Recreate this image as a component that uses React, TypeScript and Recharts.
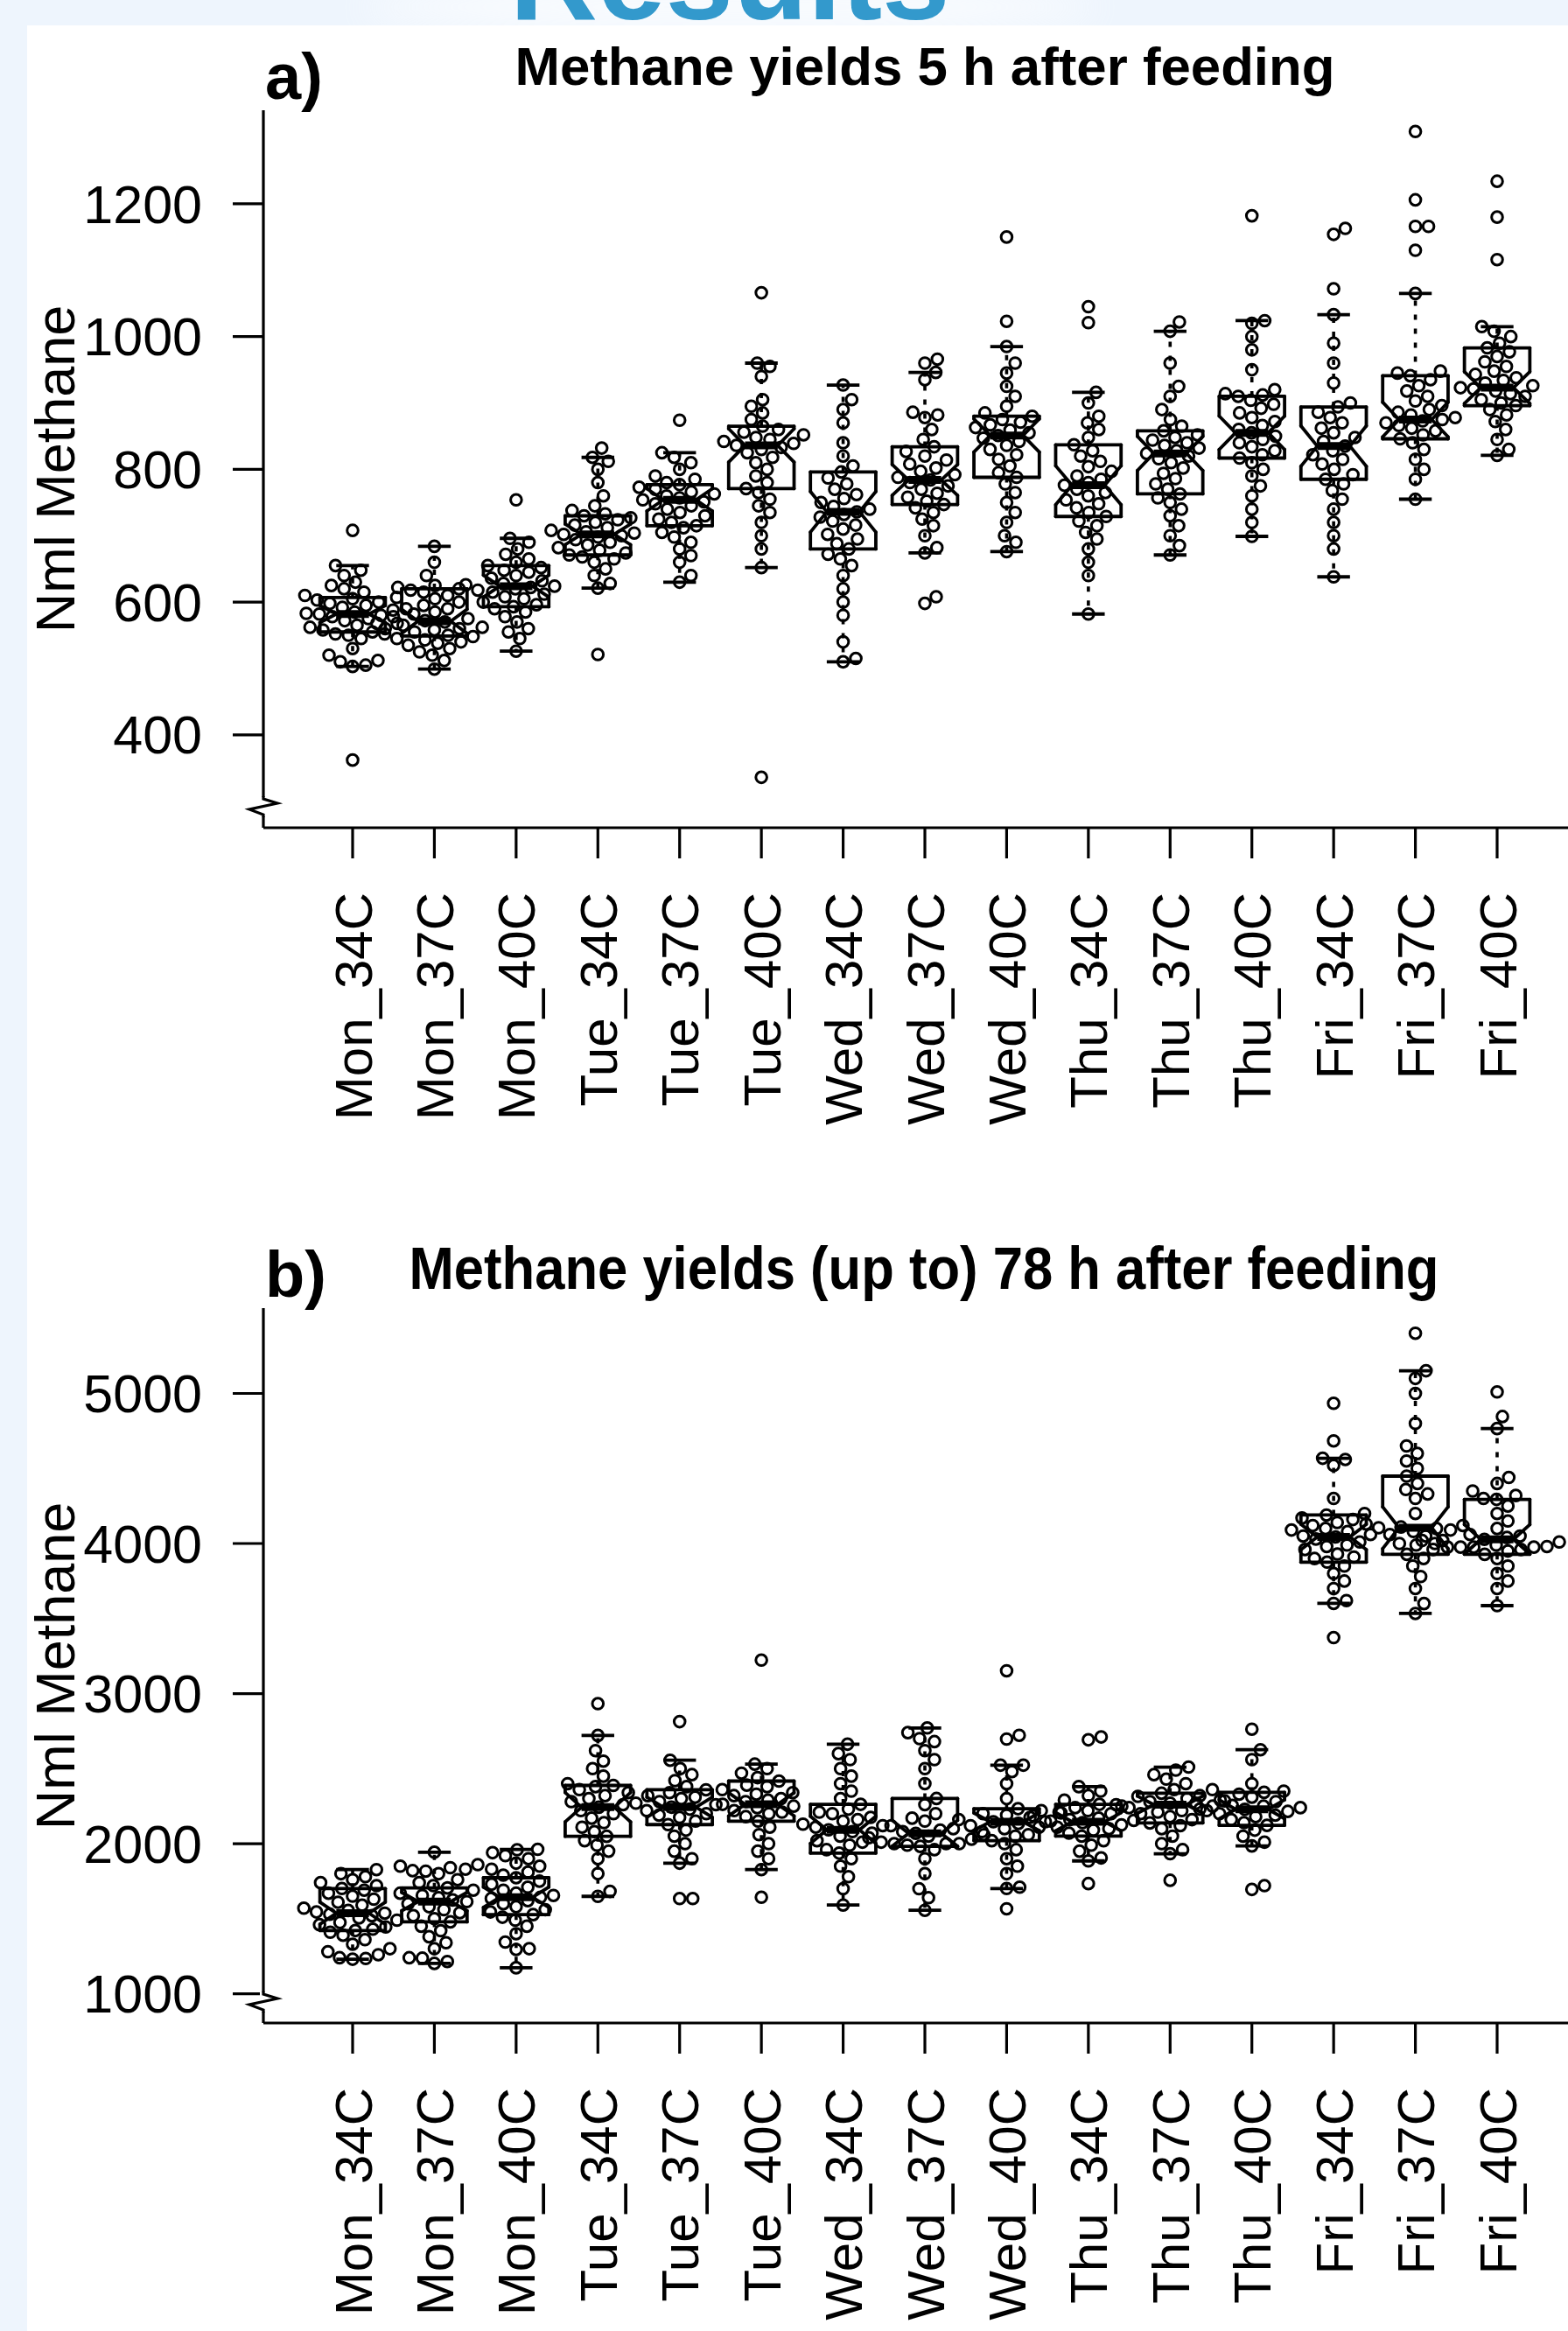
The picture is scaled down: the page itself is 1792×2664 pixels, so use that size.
import React from 'react';
import { ComposedChart, Scatter, XAxis, YAxis, ReferenceLine } from 'recharts';

const categories = [
  'Mon_34C', 'Mon_37C', 'Mon_40C', 'Tue_34C', 'Tue_37C', 'Tue_40C', 'Wed_34C', 'Wed_37C',
  'Wed_40C', 'Thu_34C', 'Thu_37C', 'Thu_40C', 'Fri_34C', 'Fri_37C', 'Fri_40C',
];
const xTicks = categories.map((_, i) => i + 1);

// panel a) - 5 h after feeding
const yTicksA = [400, 600, 800, 1000, 1200];
const lowA = [503, 499, 526, 621, 630, 652, 510, 674, 676, 582, 671, 699, 638, 755, 821];
const q1A = [555, 549, 593, 671, 715, 771, 680, 747, 788, 729, 763, 817, 785, 846, 896];
const medA = [582, 571, 624, 702, 754, 836, 736, 784, 851, 776, 824, 855, 835, 875, 923];
const q3A = [607, 620, 655, 730, 777, 865, 796, 834, 880, 837, 858, 910, 894, 941, 983];
const highA = [655, 684, 696, 818, 825, 960, 927, 946, 985, 916, 1008, 1024, 1033, 1065, 1015];
const pointsA = [
  [362, 503, 505, 510, 512, 520, 530, 545, 550, 552, 555, 558, 560, 562, 565, 568, 572, 575, 578, 580, 582, 583, 585, 588, 590, 592, 595, 598, 600, 603, 605, 607, 610, 615, 620, 625, 630, 640, 648, 655, 708],
  [499, 512, 520, 525, 530, 535, 538, 540, 543, 545, 548, 550, 552, 555, 558, 560, 562, 565, 568, 570, 572, 575, 578, 582, 585, 590, 595, 600, 605, 610, 615, 618, 620, 622, 625, 640, 660, 684],
  [526, 545, 555, 560, 570, 578, 585, 590, 593, 596, 600, 605, 608, 612, 615, 618, 620, 622, 624, 626, 628, 632, 636, 640, 645, 648, 652, 655, 660, 665, 672, 680, 690, 696, 754],
  [521, 621, 628, 640, 650, 660, 665, 668, 671, 674, 678, 682, 686, 690, 694, 698, 700, 702, 704, 706, 708, 712, 716, 720, 724, 727, 730, 733, 738, 745, 760, 780, 800, 812, 818, 832],
  [630, 640, 660, 670, 680, 690, 698, 705, 712, 715, 720, 725, 730, 735, 740, 745, 748, 751, 754, 757, 760, 763, 766, 770, 773, 777, 780, 785, 790, 800, 810, 818, 825, 874],
  [336, 652, 680, 700, 720, 735, 745, 755, 765, 771, 780, 790, 800, 810, 818, 825, 830, 833, 836, 839, 842, 845, 848, 852, 856, 860, 865, 875, 885, 895, 905, 940, 955, 960, 1066],
  [510, 515, 540, 580, 600, 620, 640, 655, 665, 672, 680, 688, 695, 702, 710, 716, 722, 728, 732, 736, 740, 744, 750, 756, 762, 770, 778, 787, 796, 805, 820, 840, 870, 890, 905, 927],
  [598, 608, 674, 682, 700, 715, 725, 735, 742, 747, 752, 758, 764, 770, 775, 780, 784, 788, 792, 797, 802, 808, 814, 820, 827, 834, 845, 860, 878, 882, 886, 935, 946, 960, 966],
  [676, 690, 700, 720, 735, 750, 765, 778, 788, 795, 805, 815, 822, 830, 836, 842, 847, 851, 855, 859, 863, 867, 871, 875, 880, 885, 895, 910, 925, 945, 960, 985, 1023, 1150],
  [582, 640, 660, 680, 695, 705, 715, 722, 729, 735, 742, 748, 754, 760, 765, 770, 776, 780, 785, 790, 797, 804, 812, 820, 828, 837, 848, 860, 870, 880, 900, 916, 1021, 1045],
  [671, 685, 700, 715, 730, 740, 750, 757, 763, 770, 778, 786, 794, 802, 810, 816, 820, 824, 828, 832, 836, 840, 844, 848, 852, 858, 865, 875, 890, 910, 925, 960, 1008, 1022],
  [699, 720, 740, 760, 775, 790, 800, 810, 817, 822, 828, 834, 840, 845, 850, 855, 860, 866, 872, 878, 885, 892, 898, 904, 910, 912, 914, 920, 950, 980, 1000, 1020, 1024, 1182],
  [638, 680, 700, 720, 740, 755, 768, 778, 785, 792, 800, 808, 815, 822, 828, 835, 842, 848, 855, 862, 870, 878, 886, 894, 900, 930, 960, 990, 1033, 1072, 1154, 1163],
  [755, 785, 800, 815, 830, 840, 846, 852, 858, 862, 866, 870, 873, 875, 878, 882, 886, 890, 896, 903, 910, 918, 926, 935, 941, 945, 948, 1065, 1130, 1166, 1166, 1206, 1309],
  [821, 830, 845, 860, 872, 882, 890, 896, 900, 905, 910, 914, 918, 921, 923, 926, 930, 934, 938, 943, 948, 955, 962, 970, 977, 983, 990, 1000, 1008, 1015, 1116, 1180, 1234],
];

// panel b) - up to 78 h after feeding
const yTicksB = [1000, 2000, 3000, 4000, 5000];
const lowB = [1230, 1202, 1173, 1649, 1870, 1827, 1591, 1556, 1701, 1885, 1933, 1985, 3601, 3534, 3586];
const q1B = [1421, 1479, 1527, 2049, 2127, 2150, 1937, 1982, 2020, 2050, 2138, 2122, 3876, 3928, 3928];
const medB = [1537, 1614, 1643, 2243, 2243, 2262, 2092, 2069, 2146, 2146, 2260, 2229, 4044, 4105, 4028];
const q3B = [1701, 1705, 1773, 2388, 2359, 2417, 2262, 2301, 2233, 2262, 2336, 2342, 4190, 4449, 4294];
const highB = [1827, 1943, 1962, 2721, 2556, 2530, 2663, 2771, 2523, 2380, 2510, 2626, 4568, 5151, 4766];
const pointsB = [
  [1230, 1235, 1240, 1260, 1280, 1300, 1330, 1360, 1390, 1410, 1421, 1430, 1445, 1460, 1475, 1490, 1505, 1520, 1530, 1537, 1545, 1555, 1570, 1590, 1610, 1630, 1650, 1670, 1690, 1701, 1720, 1740, 1760, 1780, 1800, 1827],
  [1202, 1215, 1237, 1240, 1300, 1340, 1380, 1420, 1450, 1479, 1500, 1520, 1540, 1560, 1580, 1600, 1614, 1625, 1640, 1655, 1670, 1690, 1705, 1720, 1740, 1760, 1800, 1817, 1820, 1830, 1840, 1850, 1860, 1943],
  [1173, 1295, 1300, 1344, 1400, 1450, 1490, 1510, 1527, 1545, 1560, 1580, 1600, 1620, 1635, 1643, 1655, 1670, 1690, 1710, 1730, 1750, 1773, 1790, 1810, 1830, 1850, 1870, 1900, 1920, 1940, 1959, 1962],
  [1649, 1682, 1800, 1900, 1950, 1990, 2020, 2049, 2080, 2110, 2140, 2170, 2200, 2220, 2243, 2260, 2280, 2300, 2320, 2340, 2360, 2380, 2388, 2400, 2450, 2500, 2550, 2620, 2721, 2933],
  [1634, 1634, 1870, 1900, 1950, 2000, 2050, 2090, 2127, 2150, 2175, 2190, 2200, 2220, 2230, 2243, 2260, 2270, 2280, 2300, 2310, 2320, 2340, 2359, 2380, 2420, 2460, 2500, 2556, 2813],
  [1643, 1827, 1900, 1950, 2000, 2060, 2110, 2150, 2180, 2200, 2210, 2220, 2240, 2250, 2262, 2280, 2290, 2300, 2320, 2330, 2340, 2360, 2380, 2390, 2417, 2440, 2470, 2500, 2530, 3223],
  [1591, 1700, 1780, 1850, 1900, 1937, 1960, 1990, 2010, 2020, 2050, 2070, 2080, 2092, 2110, 2120, 2130, 2150, 2160, 2175, 2200, 2210, 2230, 2262, 2300, 2350, 2400, 2450, 2500, 2560, 2600, 2663],
  [1556, 1640, 1700, 1800, 1900, 1960, 1982, 1990, 2000, 2000, 2000, 2010, 2030, 2040, 2050, 2060, 2069, 2080, 2090, 2100, 2120, 2150, 2170, 2200, 2260, 2301, 2400, 2500, 2560, 2620, 2680, 2700, 2740, 2771],
  [1566, 1701, 1710, 1800, 1850, 1900, 1960, 2000, 2020, 2050, 2060, 2080, 2100, 2110, 2120, 2135, 2146, 2150, 2160, 2175, 2190, 2200, 2205, 2220, 2233, 2300, 2400, 2480, 2523, 2523, 2697, 2722, 3152],
  [1734, 1885, 1905, 1950, 1990, 2020, 2050, 2070, 2090, 2100, 2110, 2125, 2140, 2146, 2155, 2160, 2170, 2185, 2200, 2210, 2220, 2240, 2250, 2262, 2290, 2320, 2350, 2380, 2692, 2711],
  [1756, 1933, 1960, 2000, 2050, 2100, 2120, 2138, 2160, 2180, 2200, 2210, 2220, 2230, 2240, 2250, 2260, 2270, 2280, 2285, 2300, 2315, 2320, 2336, 2360, 2400, 2430, 2460, 2490, 2510],
  [1695, 1720, 1985, 2010, 2050, 2090, 2122, 2140, 2160, 2180, 2190, 2200, 2215, 2220, 2229, 2240, 2250, 2255, 2270, 2280, 2290, 2310, 2330, 2342, 2350, 2360, 2400, 2560, 2626, 2763],
  [3373, 3601, 3620, 3700, 3750, 3800, 3850, 3876, 3900, 3910, 3930, 3960, 3980, 3990, 4010, 4030, 4044, 4050, 4060, 4080, 4090, 4100, 4120, 4140, 4160, 4170, 4190, 4200, 4300, 4520, 4560, 4568, 4684, 4934],
  [3534, 3600, 3700, 3780, 3850, 3900, 3928, 3960, 3990, 4000, 4020, 4050, 4060, 4080, 4090, 4100, 4105, 4110, 4120, 4130, 4200, 4300, 4330, 4360, 4400, 4449, 4500, 4550, 4600, 4650, 4800, 5000, 5100, 5151, 5401],
  [3586, 3700, 3750, 3800, 3850, 3900, 3928, 3950, 3960, 3976, 3976, 3976, 3976, 3980, 3990, 4000, 4010, 4020, 4028, 4040, 4050, 4060, 4100, 4150, 4200, 4250, 4294, 4300, 4320, 4350, 4400, 4440, 4766, 4846, 5010],
];

const FONT = "'Liberation Sans', Arial, Helvetica, sans-serif";
const NARROW = "'Liberation Sans Narrow', 'Arial Narrow', 'Liberation Sans', sans-serif";

const CHART_W = 1860;
const PLOT_LEFT = 301;
const PLOT_RIGHT = 1813;
const X_DOMAIN: [number, number] = [-0.0917, 16.0917];
const DOT_D = 15;

// simple beeswarm: place each point as close to the centre as it can go without overlap
function swarmOffsets(vals: number[], pxPerY: number, d: number) {
  const order = vals.map((_, i) => i).sort((a, b) => vals[a] - vals[b]);
  const placed: { x: number; y: number }[] = [];
  const out = new Array(vals.length).fill(0);
  for (const i of order) {
    const y = vals[i] * pxPerY;
    const near = placed.filter((p) => Math.abs(p.y - y) < d);
    const cands = [0];
    near.forEach((p) => {
      const dx = Math.sqrt(d * d - (p.y - y) * (p.y - y));
      cands.push(p.x + dx, p.x - dx);
    });
    cands.sort((a, b) => Math.abs(a) - Math.abs(b) || b - a);
    let best = 0;
    for (const c of cands) {
      if (near.every((p) => (p.x - c) ** 2 + (p.y - y) ** 2 >= d * d - 0.01)) {
        best = c;
        break;
      }
    }
    placed.push({ x: best, y });
    out[i] = best;
  }
  return out;
}

type Seg = { a: [number, number]; b: [number, number]; kind: 'box' | 'med' | 'whisk' | 'cap' };

function boxSegments(i: number, lo: number, q1: number, med: number, q3: number, hi: number, n: number) {
  const x = i + 1;
  const w = 0.4;
  const wn = w / 2;
  const h = (1.58 * (q3 - q1)) / Math.sqrt(n);
  const nLo = med - h;
  const nHi = med + h;
  const poly: [number, number][] = [
    [x - w, q1], [x - w, nLo], [x - wn, med], [x - w, nHi], [x - w, q3],
    [x + w, q3], [x + w, nHi], [x + wn, med], [x + w, nLo], [x + w, q1], [x - w, q1],
  ];
  const segs: Seg[] = [];
  for (let k = 0; k < poly.length - 1; k++) segs.push({ a: poly[k], b: poly[k + 1], kind: 'box' });
  segs.push({ a: [x, q3], b: [x, hi], kind: 'whisk' });
  segs.push({ a: [x, q1], b: [x, lo], kind: 'whisk' });
  segs.push({ a: [x - wn, hi], b: [x + wn, hi], kind: 'cap' });
  segs.push({ a: [x - wn, lo], b: [x + wn, lo], kind: 'cap' });
  segs.push({ a: [x - wn, med], b: [x + wn, med], kind: 'med' });
  return segs;
}

const segStyle = {
  box: { strokeWidth: 3.8, strokeLinecap: 'round' },
  med: { strokeWidth: 9, strokeLinecap: 'butt' },
  whisk: { strokeWidth: 3.6, strokeLinecap: 'butt', strokeDasharray: '6 10' },
  cap: { strokeWidth: 3.8, strokeLinecap: 'butt' },
} as const;

const Dot = (p: any) => (
  <circle cx={p.cx} cy={p.cy} r={6.3} fill="none" stroke="#000" strokeWidth={3} />
);

const XTick = (p: any) => {
  const label = categories[Math.round(p.payload.value) - 1];
  return (
    <text
      x={p.x}
      y={p.y}
      transform={`rotate(-90 ${p.x} ${p.y})`}
      textAnchor="end"
      dy="0.36em"
      fontSize={60}
      fontFamily={FONT}
      fill="#000"
    >
      {label}
    </text>
  );
};

interface PanelProps {
  points: number[][];
  lows: number[];
  q1s: number[];
  meds: number[];
  q3s: number[];
  highs: number[];
  yDomain: [number, number];
  yTicks: number[];
  height: number;
  marginTop: number;
  xAxisHeight: number;
}

function Panel({ points, lows, q1s, meds, q3s, highs, yDomain, yTicks, height, marginTop, xAxisHeight }: PanelProps) {
  const plotH = height - marginTop - xAxisHeight;
  const pxPerY = plotH / (yDomain[1] - yDomain[0]);
  const pxPerX = (PLOT_RIGHT - PLOT_LEFT) / (X_DOMAIN[1] - X_DOMAIN[0]);

  const dots = points.flatMap((vals, i) => {
    const offs = swarmOffsets(vals, pxPerY, DOT_D);
    return vals.map((v, k) => ({ x: i + 1 + offs[k] / pxPerX, y: v }));
  });
  const segs = points.flatMap((vals, i) =>
    boxSegments(i, lows[i], q1s[i], meds[i], q3s[i], highs[i], vals.length)
  );
  const axisStroke = { stroke: '#000', strokeWidth: 3.2 };

  return (
    <ComposedChart
      width={CHART_W}
      height={height}
      margin={{ top: marginTop, right: CHART_W - PLOT_RIGHT, bottom: 0, left: 0 }}
    >
      <XAxis
        xAxisId={0}
        type="number"
        dataKey="x"
        domain={X_DOMAIN}
        allowDataOverflow
        ticks={xTicks}
        interval={0}
        height={xAxisHeight}
        tickSize={35}
        tickMargin={39}
        tick={(p: any) => <XTick {...p} />}
        axisLine={axisStroke}
        tickLine={axisStroke}
      />
      <XAxis
        xAxisId="top"
        orientation="top"
        type="number"
        domain={X_DOMAIN}
        allowDataOverflow
        height={0}
        tick={false}
        tickLine={false}
        axisLine={axisStroke}
      />
      <YAxis
        type="number"
        dataKey="y"
        domain={yDomain}
        allowDataOverflow
        ticks={yTicks}
        interval={0}
        width={PLOT_LEFT}
        tickSize={35}
        tickMargin={35}
        tick={{ fontSize: 61, fill: '#000', fontFamily: FONT }}
        axisLine={axisStroke}
        tickLine={axisStroke}
      />
      <Scatter data={dots} dataKey="y" isAnimationActive={false} shape={Dot} />
      {segs.map((s, k) => (
        <ReferenceLine
          key={k}
          segment={[{ x: s.a[0], y: s.a[1] }, { x: s.b[0], y: s.b[1] }]}
          stroke="#000"
          ifOverflow="visible"
          {...(segStyle[s.kind] as any)}
        />
      ))}
    </ComposedChart>
  );
}

function Zigzag({ y }: { y: number }) {
  return (
    <g>
      <rect x={297} y={y - 2} width={8} height={22} fill="#fff" />
      <path
        d={`M301,${y - 3} L301,${y} L317,${y + 5} L285,${y + 12} L301,${y + 18} L301,${y + 21}`}
        fill="none"
        stroke="#000"
        strokeWidth={3.2}
        strokeLinejoin="miter"
      />
    </g>
  );
}

export default function App() {
  return (
    <div
      style={{
        position: 'absolute',
        left: 0,
        top: 0,
        width: 1792,
        height: 2664,
        overflow: 'hidden',
        background: '#eef5fd',
        fontFamily: FONT,
      }}
    >
      <div style={{ position: 'absolute', left: 31, top: 29, width: 1761, height: 2635, background: '#fff' }} />
      <div style={{ position: 'absolute', left: 0, top: 0 }}>
        <Panel
          points={pointsA}
          lows={lowA}
          q1s={q1A}
          meds={medA}
          q3s={q3A}
          highs={highA}
          yDomain={[260, 1341]}
          yTicks={yTicksA}
          height={1330}
          marginTop={126}
          xAxisHeight={384}
        />
      </div>
      <div style={{ position: 'absolute', left: 0, top: 1330 }}>
        <Panel
          points={pointsB}
          lows={lowB}
          q1s={q1B}
          meds={medB}
          q3s={q3B}
          highs={highB}
          yDomain={[805, 5568.5]}
          yTicks={yTicksB}
          height={1334}
          marginTop={165}
          xAxisHeight={352}
        />
      </div>
      <svg
        width={1792}
        height={2664}
        style={{ position: 'absolute', left: 0, top: 0, pointerEvents: 'none' }}
      >
        <defs>
          <filter id="glow" x="-20%" y="-200%" width="140%" height="500%">
            <feGaussianBlur stdDeviation="22" />
          </filter>
        </defs>
        <ellipse cx={834} cy={8} rx={420} ry={26} fill="#fff" opacity={0.75} filter="url(#glow)" />
        <text
          x={834}
          y={22}
          textAnchor="middle"
          fontSize={139}
          fontWeight={700}
          fill="#3399cc"
          fontFamily={FONT}
          textLength={503}
          lengthAdjust="spacingAndGlyphs"
        >
          Results
        </text>

        <text x={303} y={113} fontSize={74} fontWeight={700} fontFamily={FONT} fill="#000">a)</text>
        <text
          x={1057}
          y={97}
          textAnchor="middle"
          fontSize={61}
          fontWeight={700}
          fontFamily={NARROW}
          textLength={937}
          lengthAdjust="spacingAndGlyphs"
          fill="#000"
        >
          Methane yields 5 h after feeding
        </text>
        <text transform="translate(85 536) rotate(-90)" textAnchor="middle" fontSize={63} fontFamily={FONT} fill="#000">
          Nml Methane
        </text>
        <Zigzag y={913} />

        <text x={303} y={1482} fontSize={74} fontWeight={700} fontFamily={FONT} fill="#000">b)</text>
        <text
          x={1056}
          y={1473}
          textAnchor="middle"
          fontSize={68}
          fontWeight={700}
          fontFamily={NARROW}
          textLength={1177}
          lengthAdjust="spacingAndGlyphs"
          fill="#000"
        >
          Methane yields (up to) 78 h after feeding
        </text>
        <text transform="translate(85 1904) rotate(-90)" textAnchor="middle" fontSize={63} fontFamily={FONT} fill="#000">
          Nml Methane
        </text>
        <Zigzag y={2279} />
      </svg>
    </div>
  );
}
